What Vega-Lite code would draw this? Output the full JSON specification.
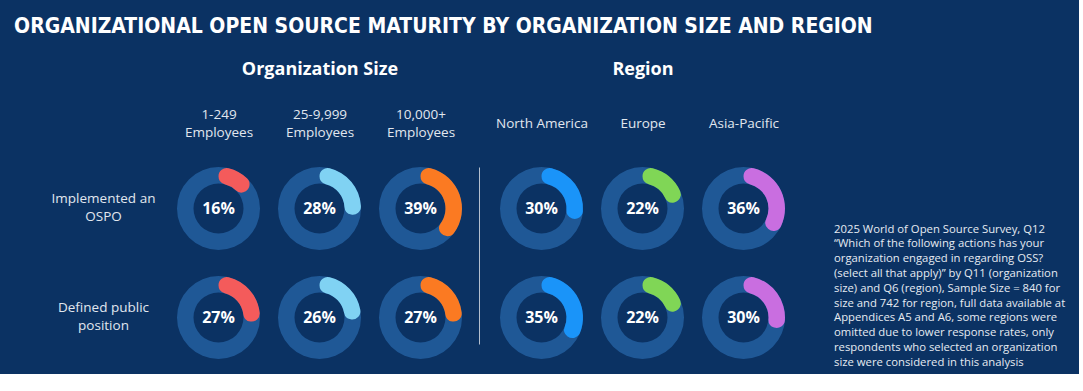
{
  "$schema": "https://vega.github.io/schema/vega-lite/v6.json",
  "background": "#0b3263",
  "padding": {"left": 14, "top": 15, "right": 5, "bottom": 5},
  "autosize": {"type": "pad"},
  "bounds": "flush",
  "spacing": 20,
  "title": {
    "text": "ORGANIZATIONAL OPEN SOURCE MATURITY BY ORGANIZATION SIZE AND REGION",
    "anchor": "start",
    "dx": -37,
    "font": "DejaVu Sans Condensed",
    "fontSize": 21,
    "fontWeight": "bold",
    "color": "#ffffff",
    "offset": 24
  },
  "datasets": {
    "donuts": [
      {"group": "Organization Size", "category": "1-249\nEmployees", "measure": "Implemented an\nOSPO", "share": 0.16},
      {"group": "Organization Size", "category": "25-9,999\nEmployees", "measure": "Implemented an\nOSPO", "share": 0.28},
      {"group": "Organization Size", "category": "10,000+\nEmployees", "measure": "Implemented an\nOSPO", "share": 0.39},
      {"group": "Organization Size", "category": "1-249\nEmployees", "measure": "Defined public\nposition", "share": 0.27},
      {"group": "Organization Size", "category": "25-9,999\nEmployees", "measure": "Defined public\nposition", "share": 0.26},
      {"group": "Organization Size", "category": "10,000+\nEmployees", "measure": "Defined public\nposition", "share": 0.27},
      {"group": "Region", "category": "North America", "measure": "Implemented an\nOSPO", "share": 0.30},
      {"group": "Region", "category": "Europe", "measure": "Implemented an\nOSPO", "share": 0.22},
      {"group": "Region", "category": "Asia-Pacific", "measure": "Implemented an\nOSPO", "share": 0.36},
      {"group": "Region", "category": "North America", "measure": "Defined public\nposition", "share": 0.35},
      {"group": "Region", "category": "Europe", "measure": "Defined public\nposition", "share": 0.22},
      {"group": "Region", "category": "Asia-Pacific", "measure": "Defined public\nposition", "share": 0.30}
    ],
    "note": [
      {"note": "2025 World of Open Source Survey, Q12\n“Which of the following actions has your\norganization engaged in regarding OSS?\n(select all that apply)” by Q11 (organization\nsize) and Q6 (region), Sample Size = 840 for\nsize and 742 for region, full data available at\nAppendices A5 and A6, some regions were\nomitted due to lower response rates, only\nrespondents who selected an organization\nsize were considered in this analysis"}
    ]
  },
  "config": {
    "view": {"stroke": null},
    "font": "Open Sans",
    "axis": {
      "labelFont": "Open Sans",
      "labelFontSize": 13.5,
      "labelColor": "#e1e7ef",
      "labelLineHeight": 18,
      "labelOverlap": false,
      "labelAngle": 0,
      "ticks": false,
      "tickSize": 0,
      "domain": false,
      "grid": false,
      "titleFont": "Open Sans",
      "titleFontSize": 18,
      "titleFontWeight": "bold",
      "titleColor": "#ffffff"
    }
  },
  "hconcat": [
    {
      "width": 303,
      "height": 177,
      "data": {"name": "donuts"},
      "transform": [{"filter": "datum.group === 'Organization Size'"}],
      "encoding": {
        "x": {
          "field": "category", "type": "nominal",
          "scale": {"type": "point", "padding": 0.5, "domain": ["1-249\nEmployees", "25-9,999\nEmployees", "10,000+\nEmployees"]},
          "axis": {"orient": "top", "title": "Organization Size", "labelExpr": "split(datum.label, '\\n')", "labelBaseline": "middle", "labelPadding": 52.5, "titleBaseline": "alphabetic", "titleY": -92.5}
        },
        "y": {
          "field": "measure", "type": "nominal",
          "scale": {"type": "point", "padding": 0.312, "align": 0.61, "domain": ["Implemented an\nOSPO", "Defined public\nposition"]},
          "axis": {"title": null, "labelExpr": "split(datum.label, '\\n')", "labelAlign": "center", "labelBaseline": "middle", "labelPadding": 65, "labelOffset": -9.5}
        }
      },
      "layer": [
        {"mark": {"type": "arc", "innerRadius": 25, "outerRadius": 41.5, "theta": 0, "theta2": 6.283185307179586, "color": "#1f5896"}},
        {
          "mark": {"type": "arc", "innerRadius": 25, "outerRadius": 41.5, "cornerRadius": 8.2},
          "encoding": {
            "theta": {"field": "share", "type": "quantitative", "stack": null, "scale": {"domain": [0, 1], "range": [0, 6.283185307179586]}},
            "theta2": {"datum": 0},
            "color": {"field": "category", "type": "nominal", "legend": null,
              "scale": {"domain": ["1-249\nEmployees", "25-9,999\nEmployees", "10,000+\nEmployees", "North America", "Europe", "Asia-Pacific"],
                        "range": ["#f45b5b", "#80d2f3", "#fb7a22", "#1a94f9", "#80d656", "#c96ee0"]}}
          }
        },
        {
          "mark": {"type": "text", "font": "Open Sans", "fontSize": 16, "fontWeight": "bold", "color": "#ffffff", "baseline": "middle", "align": "center", "dy": 1},
          "encoding": {"text": {"field": "share", "type": "quantitative", "format": ".0%"}}
        }
      ]
    },
    {
      "width": 303,
      "height": 177,
      "data": {"name": "donuts"},
      "transform": [{"filter": "datum.group === 'Region'"}],
      "encoding": {
        "x": {
          "field": "category", "type": "nominal",
          "scale": {"type": "point", "padding": 0.5, "domain": ["North America", "Europe", "Asia-Pacific"]},
          "axis": {"orient": "top", "title": "Region", "labelBaseline": "middle", "labelPadding": 44, "titleBaseline": "alphabetic", "titleY": -92.5}
        },
        "y": {
          "field": "measure", "type": "nominal",
          "scale": {"type": "point", "padding": 0.312, "align": 0.61, "domain": ["Implemented an\nOSPO", "Defined public\nposition"]},
          "axis": {"title": null, "labels": false, "domain": true, "domainColor": "#b4bfce", "domainWidth": 1, "offset": 12}
        }
      },
      "layer": [
        {"mark": {"type": "arc", "innerRadius": 25, "outerRadius": 41.5, "theta": 0, "theta2": 6.283185307179586, "color": "#1f5896"}},
        {
          "mark": {"type": "arc", "innerRadius": 25, "outerRadius": 41.5, "cornerRadius": 8.2},
          "encoding": {
            "theta": {"field": "share", "type": "quantitative", "stack": null, "scale": {"domain": [0, 1], "range": [0, 6.283185307179586]}},
            "theta2": {"datum": 0},
            "color": {"field": "category", "type": "nominal", "legend": null,
              "scale": {"domain": ["1-249\nEmployees", "25-9,999\nEmployees", "10,000+\nEmployees", "North America", "Europe", "Asia-Pacific"],
                        "range": ["#f45b5b", "#80d2f3", "#fb7a22", "#1a94f9", "#80d656", "#c96ee0"]}}
          }
        },
        {
          "mark": {"type": "text", "font": "Open Sans", "fontSize": 16, "fontWeight": "bold", "color": "#ffffff", "baseline": "middle", "align": "center", "dy": 1},
          "encoding": {"text": {"field": "share", "type": "quantitative", "format": ".0%"}}
        }
      ]
    },
    {
      "width": 260,
      "height": 177,
      "data": {"name": "note"},
      "mark": {"type": "text", "font": "Open Sans", "fontSize": 11.3, "color": "#e6ebf2", "align": "left", "baseline": "alphabetic", "lineBreak": "\n", "lineHeight": 14.8},
      "encoding": {
        "x": {"value": 20},
        "y": {"value": 65.5},
        "text": {"field": "note"}
      }
    }
  ]
}
